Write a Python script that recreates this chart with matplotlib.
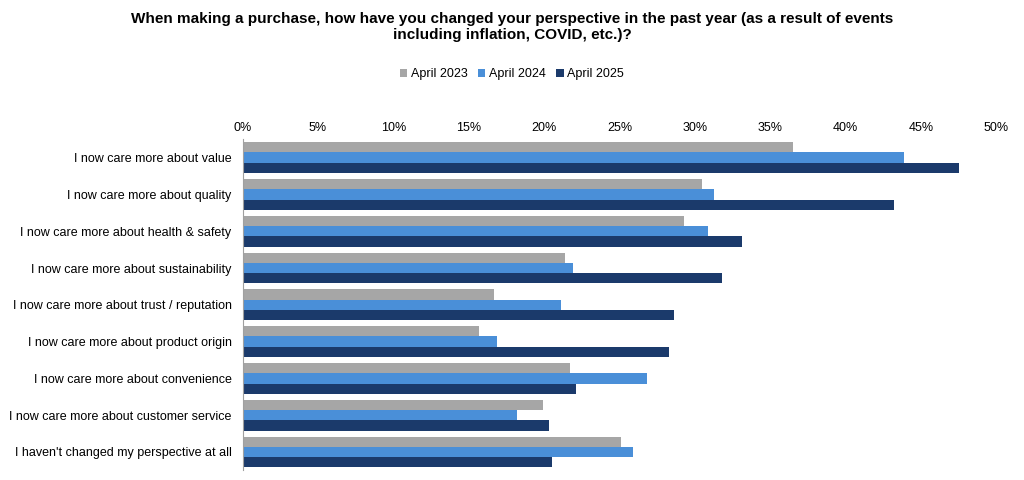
import matplotlib.pyplot as plt
import numpy as np

plt.rcParams["font.family"] = "Liberation Sans"

categories = [
    "I now care more about value",
    "I now care more about quality",
    "I now care more about health & safety",
    "I now care more about sustainability",
    "I now care more about trust / reputation",
    "I now care more about product origin",
    "I now care more about convenience",
    "I now care more about customer service",
    "I haven't changed my perspective at all",
]
series_names = ["April 2023", "April 2024", "April 2025"]
apr_2023 = [36.5, 30.5, 29.3, 21.4, 16.7, 15.7, 21.7, 19.9, 25.1]
apr_2024 = [43.9, 31.3, 30.9, 21.9, 21.1, 16.9, 26.8, 18.2, 25.9]
apr_2025 = [47.5, 43.2, 33.1, 31.8, 28.6, 28.3, 22.1, 20.3, 20.5]
colors = ["#A6A6A6", "#4A8FD8", "#1B3A6B"]

fig = plt.figure(figsize=(10.24, 4.8), dpi=100)
ax = fig.add_axes([0.237, 0.02, 0.736, 0.69])

y = np.arange(len(categories))
h = 0.28
for i, (vals, name) in enumerate(zip([apr_2023, apr_2024, apr_2025], series_names)):
    ax.barh(y + (i - 1) * h, vals, height=h, color=colors[i], label=name)

ax.set_yticks(y)
ax.set_yticklabels(categories, fontsize=9)
ax.set_ylim(len(categories) - 0.5, -0.5)
ax.set_xlim(0, 50)
ax.set_xticks(range(0, 51, 5))
ax.set_xticklabels([f"{v}%" for v in range(0, 51, 5)], fontsize=9)
ax.xaxis.tick_top()
ax.tick_params(axis="both", length=0)
ax.tick_params(axis="y", pad=8)
for s in ["top", "right", "bottom"]:
    ax.spines[s].set_visible(False)
ax.spines["left"].set_color("#A0A0A0")

fig.suptitle("When making a purchase, how have you changed your perspective in the past year (as a result of events\nincluding inflation, COVID, etc.)?",
             fontsize=11, fontweight="bold", y=0.975)
fig.legend(loc="center", bbox_to_anchor=(0.5, 0.845), ncol=3, frameon=False,
           fontsize=9, handlelength=0.6, handleheight=0.6, columnspacing=0.8, handletextpad=0.3)

fig.savefig("out.png", dpi=100)
